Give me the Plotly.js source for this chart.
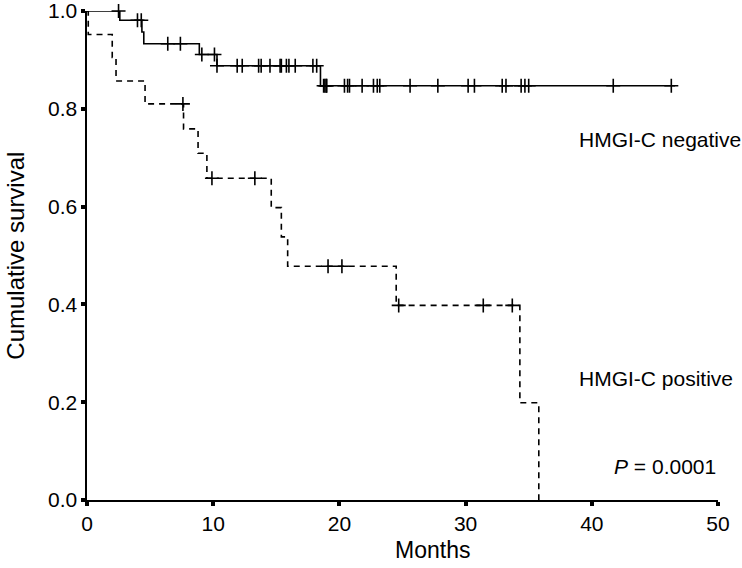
<!DOCTYPE html>
<html>
<head>
<meta charset="utf-8">
<script src="https://cdn.plot.ly/plotly-3.0.1.min.js"></script>
<style>
  body { margin: 0; background: #fff; }
  #myDiv { width: 742px; height: 568px; }
</style>
</head>
<body>
<div id="myDiv"></div>
<script>
// HMGI-C negative: step curve (event times) and censored cases
var negTime = [0, 2.6, 4.35, 4.5, 8.9, 10.3, 18.5, 46.6];
var negSurv = [1.0, 0.981, 0.957, 0.933, 0.911, 0.888, 0.847, 0.847];
var negCensTime = [2.5, 4.0, 4.3, 6.4, 7.4, 9.1, 10.1, 10.3,
  11.9, 12.3, 13.6, 13.8, 14.5, 15.3, 15.4, 15.8, 16.0, 16.5, 17.9, 18.2,
  18.75, 18.85, 18.95, 19.0, 20.4, 20.65, 20.8, 21.8, 22.7, 23.0, 23.2, 25.6,
  27.8, 30.2, 30.7, 32.9, 33.2, 34.4, 34.7, 35.0, 41.7, 46.3];
var negCensSurv = [1.0, 0.981, 0.981, 0.933, 0.933, 0.911, 0.911, 0.888,
  0.888, 0.888, 0.888, 0.888, 0.888, 0.888, 0.888, 0.888, 0.888, 0.888, 0.888, 0.888,
  0.847, 0.847, 0.847, 0.847, 0.847, 0.847, 0.847, 0.847, 0.847, 0.847, 0.847, 0.847,
  0.847, 0.847, 0.847, 0.847, 0.847, 0.847, 0.847, 0.847, 0.847, 0.847];

// HMGI-C positive
var posTime = [0, 0.1, 2.0, 2.3, 4.6, 7.65, 8.8, 9.5, 14.6, 15.4, 15.9, 24.5, 34.3, 35.8];
var posSurv = [1.0, 0.952, 0.905, 0.857, 0.810, 0.759, 0.709, 0.658, 0.598, 0.538, 0.478, 0.398, 0.199, 0.0];
var posCensTime = [7.6, 9.9, 13.3, 19.1, 20.2, 24.7, 31.4, 33.7];
var posCensSurv = [0.810, 0.658, 0.658, 0.478, 0.478, 0.398, 0.398, 0.398];

var xTicks = [0, 10, 20, 30, 40, 50];
var yTicks = [0, 0.2, 0.4, 0.6, 0.8, 1.0];

var fontFam = 'Liberation Sans, Arial, Helvetica, sans-serif';

var negLine = {
  x: negTime, y: negSurv,
  type: 'scatter', mode: 'lines',
  line: {shape: 'hv', color: 'black', width: 1.6},
  cliponaxis: false, hoverinfo: 'skip'
};
var negCens = {
  x: negCensTime, y: negCensSurv,
  type: 'scatter', mode: 'markers',
  marker: {symbol: 'cross-thin', size: 10, line: {color: 'black', width: 1.6}},
  cliponaxis: false
};
var posLine = {
  x: posTime, y: posSurv,
  type: 'scatter', mode: 'lines',
  line: {shape: 'hv', color: 'black', width: 1.6, dash: '6px,5px'},
  cliponaxis: false, hoverinfo: 'skip'
};
var posCens = {
  x: posCensTime, y: posCensSurv,
  type: 'scatter', mode: 'markers',
  marker: {symbol: 'cross-thin', size: 10, line: {color: 'black', width: 1.6}},
  cliponaxis: false
};

var data = [negLine, negCens, posLine, posCens];

var layout = {
  width: 742, height: 568,
  showlegend: false,
  paper_bgcolor: 'white', plot_bgcolor: 'white',
  margin: {l: 87, r: 24, t: 11, b: 68},
  font: {family: fontFam, size: 21, color: 'black'},
  xaxis: {
    range: [0, 50],
    tickvals: xTicks,
    ticktext: xTicks.map(String),
    ticks: 'outside', ticklen: 4, tickwidth: 4, tickcolor: 'black',
    showline: true, linecolor: 'black', linewidth: 1.6,
    showgrid: false, zeroline: false,
    ticklabeloverflow: 'allow',
    tickfont: {size: 21}
  },
  yaxis: {
    range: [0, 1],
    tickvals: yTicks,
    ticktext: yTicks.map(function (v) { return v.toFixed(1); }),
    ticks: 'outside', ticklen: 4, tickwidth: 4, tickcolor: 'black',
    showline: true, linecolor: 'black', linewidth: 1.6,
    showgrid: false, zeroline: false,
    ticklabeloverflow: 'allow',
    tickfont: {size: 21}
  },
  annotations: [
    // axis titles
    {x: 0.547, y: -0.102, xref: 'paper', yref: 'paper', text: 'Months',
     showarrow: false, xanchor: 'center', yanchor: 'middle', font: {size: 23}},
    {x: -0.113, y: 0.499, xref: 'paper', yref: 'paper', text: 'Cumulative survival',
     textangle: -90, showarrow: false, xanchor: 'center', yanchor: 'middle', font: {size: 24}},
    // group labels
    {x: 38.8, y: 0.737, xref: 'x', yref: 'y', text: 'HMGI-C negative',
     showarrow: false, xanchor: 'left', yanchor: 'middle', font: {size: 21}},
    {x: 38.8, y: 0.248, xref: 'x', yref: 'y', text: 'HMGI-C positive',
     showarrow: false, xanchor: 'left', yanchor: 'middle', font: {size: 21}},
    {x: 41.6, y: 0.069, xref: 'x', yref: 'y', text: '<i>P</i> = 0.0001',
     showarrow: false, xanchor: 'left', yanchor: 'middle', font: {size: 21}}
  ]
};

Plotly.newPlot('myDiv', data, layout, {staticPlot: true});
</script>
</body>
</html>
